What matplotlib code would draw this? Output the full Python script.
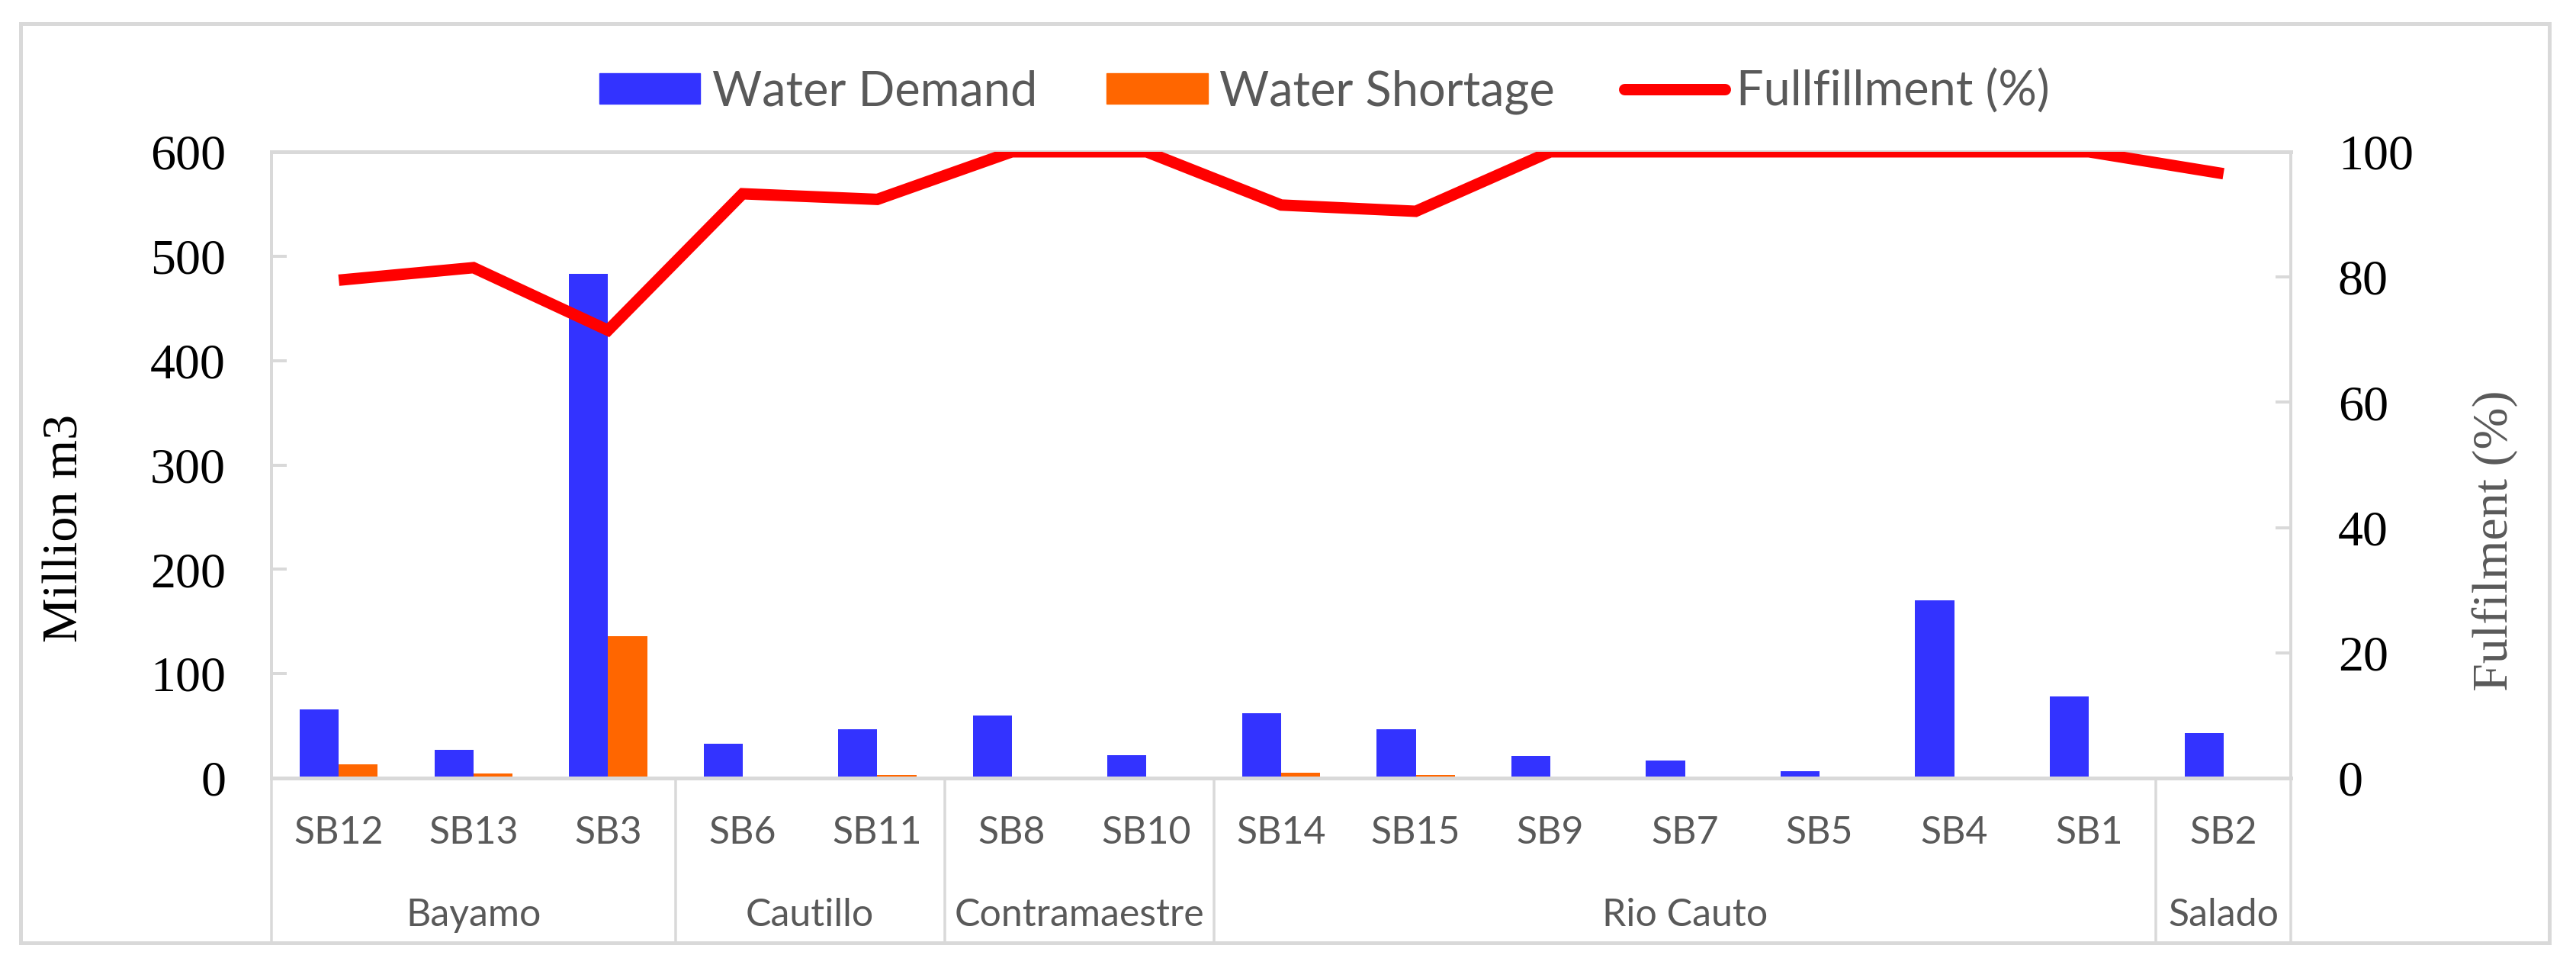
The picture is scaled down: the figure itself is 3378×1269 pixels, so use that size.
import matplotlib
matplotlib.use("Agg")
import matplotlib.pyplot as plt
from matplotlib.patches import Rectangle, Patch
from matplotlib.lines import Line2D
import numpy as np

categories = ["SB12", "SB13", "SB3", "SB6", "SB11", "SB8", "SB10", "SB14",
              "SB15", "SB9", "SB7", "SB5", "SB4", "SB1", "SB2"]
groups = ["Bayamo", "Cautillo", "Contramaestre", "Rio Cauto", "Salado"]
group_sizes = [3, 2, 2, 7, 1]
water_demand = [66, 27, 483, 33, 47, 60, 22, 62, 47, 21, 17, 6.5, 170, 78, 43]
water_shortage = [13, 4.5, 136, 0, 2.8, 0, 0, 5, 2.8, 0, 0, 0, 0, 0, 0]
fulfillment = [79.5, 81.5, 71.5, 93.3, 92.4, 100, 100, 91.5, 90.5, 100, 100, 100, 100, 100, 96.5]
left_ticks = [0, 100, 200, 300, 400, 500, 600]
right_ticks = [0, 20, 40, 60, 80, 100]

W, H = 3378, 1269
DPI = 100
fig = plt.figure(figsize=(W / DPI, H / DPI), dpi=DPI)

def px(v):  # pixels -> points
    return v * 72.0 / DPI

GRID = "#d9d9d9"
TXT = "#595959"
BLUE = "#3333ff"
ORANGE = "#ff6600"
RED = "#ff0000"

x0, x1, ytop, ybot = 356, 3004, 199, 1020
ax = fig.add_axes([x0 / W, 1 - ybot / H, (x1 - x0) / W, (ybot - ytop) / H])
ax.set_facecolor("none")
x = np.arange(len(categories))
bw = 0.29
ax.bar(x - bw / 2, water_demand, bw, color=BLUE, zorder=2)
ax.bar(x + bw / 2, water_shortage, bw, color=ORANGE, zorder=2)
ax.set_xlim(-0.5, len(categories) - 0.5)
ax.set_ylim(0, 600)
ax.set_yticks(left_ticks)
ax.set_xticks([])
for s in ["left", "right", "top"]:
    ax.spines[s].set_color(GRID)
    ax.spines[s].set_linewidth(px(4))
ax.spines["top"].set_linewidth(px(5))
ax.spines["bottom"].set_color(GRID)
ax.spines["bottom"].set_linewidth(px(5))
ax.tick_params(axis="y", direction="in", length=px(20), width=px(4), color=GRID,
               labelsize=px(66), pad=px(60), labelcolor="black")
for lab in ax.get_yticklabels():
    lab.set_fontfamily("Liberation Serif")

ax2 = ax.twinx()
ax2.plot(x, fulfillment, color=RED, lw=px(15), solid_capstyle="butt",
         solid_joinstyle="miter", zorder=3)
ax2.set_ylim(0, 100)
ax2.set_yticks(right_ticks)
for s in ["left", "right", "top", "bottom"]:
    ax2.spines[s].set_visible(False)
ax2.tick_params(axis="y", direction="in", length=px(20), width=px(4), color=GRID,
                labelsize=px(66), pad=px(62), labelcolor="black")
for lab in ax2.get_yticklabels():
    lab.set_fontfamily("Liberation Serif")

# category labels
tr = ax.get_xaxis_transform()
span = ybot - ytop
for i, c in enumerate(categories):
    ax.text(i, -(1092 - ybot) / span, c, transform=tr, ha="center", va="center",
            fontsize=px(50), color=TXT, family="Lato")
bottom_y = -(1233 - ybot) / span
start = 0
bounds = [0]
for g, n in zip(groups, group_sizes):
    center = start + (n - 1) / 2
    ax.text(center, -(1200 - ybot) / span, g, transform=tr, ha="center", va="center",
            fontsize=px(50), color=TXT, family="Lato")
    start += n
    bounds.append(start)
for b in bounds:
    ax.plot([b - 0.5, b - 0.5], [0, bottom_y], transform=tr, color=GRID,
            lw=px(3.5), clip_on=False, zorder=1)

# axis titles
fig.text(86 / W, 1 - 692 / H, "Million m3", rotation=90, ha="center", va="center",
         fontsize=px(66), family="Liberation Serif", color="black")
fig.text(3272 / W, 1 - 709 / H, "Fulfilment (%)", rotation=90, ha="center", va="center",
         fontsize=px(66), family="Liberation Serif", color=TXT)

# legend
handles = [Patch(color=BLUE), Patch(color=ORANGE),
           Line2D([0], [0], color=RED, lw=px(15), solid_capstyle="round")]
labels = ["Water Demand", "Water Shortage", "Fullfillment (%)"]
leg = fig.legend(handles, labels, loc="center", bbox_to_anchor=(1737 / W, 1 - 120 / H),
                 ncol=3, frameon=False, prop={"family": "Lato", "size": px(63)},
                 handlelength=2.1, handleheight=0.6, handletextpad=0.24,
                 columnspacing=1.45, labelcolor=TXT)

# outer border
fig.patches.append(Rectangle((27 / W, 1 - 1236 / H), (3343 - 27) / W, (1236 - 31) / H,
                             transform=fig.transFigure, fill=False, edgecolor=GRID,
                             lw=px(5)))

fig.savefig("out.png", dpi=DPI, facecolor="white")
